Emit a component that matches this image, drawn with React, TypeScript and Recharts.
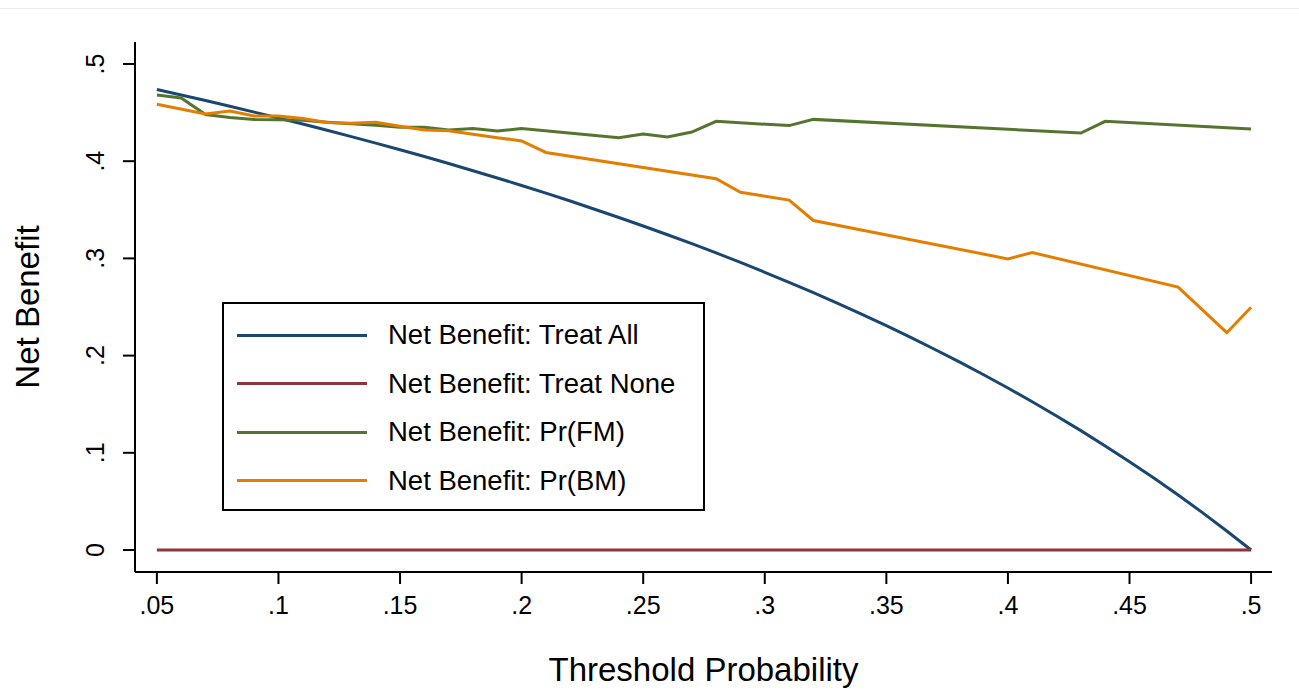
import React from "react";
import { LineChart, Line, XAxis, YAxis, Legend } from "recharts";

const xTicks = [0.05, 0.1, 0.15, 0.2, 0.25, 0.3, 0.35, 0.4, 0.45, 0.5];
const xTickLabels = [".05", ".1", ".15", ".2", ".25", ".3", ".35", ".4", ".45", ".5"];
const yTicks = [0, 0.1, 0.2, 0.3, 0.4, 0.5];
const yTickLabels = ["0", ".1", ".2", ".3", ".4", ".5"];

const treatAllT = [0.05, 0.06, 0.07, 0.08, 0.09, 0.1, 0.11, 0.12, 0.13, 0.14, 0.15, 0.16, 0.17, 0.18, 0.19, 0.2, 0.21, 0.22, 0.23, 0.24, 0.25, 0.26, 0.27, 0.28, 0.29, 0.3, 0.31, 0.32, 0.33, 0.34, 0.35, 0.36, 0.37, 0.38, 0.39, 0.4, 0.41, 0.42, 0.43, 0.44, 0.45, 0.46, 0.47, 0.48, 0.49, 0.5];
const treatAllV = [0.4737, 0.4681, 0.4624, 0.4565, 0.4505, 0.4444, 0.4382, 0.4318, 0.4253, 0.4186, 0.4118, 0.4048, 0.3976, 0.3902, 0.3827, 0.375, 0.3671, 0.359, 0.3506, 0.3421, 0.3333, 0.3243, 0.3151, 0.3056, 0.2958, 0.2857, 0.2754, 0.2647, 0.2537, 0.2424, 0.2308, 0.2188, 0.2063, 0.1935, 0.1803, 0.1667, 0.1525, 0.1379, 0.1228, 0.1071, 0.0909, 0.0741, 0.0566, 0.0385, 0.0196, 0];

const treatNoneT = [0.05, 0.5];
const treatNoneV = [0, 0];

const fmT = [0.05, 0.06, 0.07, 0.08, 0.09, 0.1, 0.11, 0.12, 0.13, 0.14, 0.15, 0.16, 0.17, 0.18, 0.19, 0.2, 0.24, 0.25, 0.26, 0.27, 0.28, 0.31, 0.32, 0.43, 0.44, 0.5];
const fmV = [0.468, 0.465, 0.448, 0.445, 0.443, 0.4425, 0.442, 0.44, 0.4385, 0.437, 0.435, 0.435, 0.432, 0.4335, 0.431, 0.4335, 0.424, 0.428, 0.425, 0.43, 0.441, 0.4366, 0.443, 0.429, 0.441, 0.433];

const bmT = [0.05, 0.07, 0.08, 0.09, 0.1, 0.11, 0.12, 0.13, 0.14, 0.15, 0.16, 0.17, 0.18, 0.19, 0.2, 0.21, 0.28, 0.29, 0.31, 0.32, 0.4, 0.41, 0.47, 0.49, 0.5];
const bmV = [0.4585, 0.4486, 0.4516, 0.4465, 0.4465, 0.444, 0.4397, 0.439, 0.44, 0.436, 0.432, 0.4314, 0.4277, 0.4242, 0.4208, 0.409, 0.382, 0.368, 0.36, 0.339, 0.2995, 0.306, 0.2705, 0.2236, 0.2497];

const seriesNames = [
  "Net Benefit: Treat All",
  "Net Benefit: Treat None",
  "Net Benefit: Pr(FM)",
  "Net Benefit: Pr(BM)",
];
const seriesColors = ["#1a476f", "#90353b", "#55752f", "#e37e00"];

const zip = (ts: number[], vs: number[]) => ts.map((t, i) => ({ t, v: vs[i] }));
const seriesData = [
  zip(treatAllT, treatAllV),
  zip(treatNoneT, treatNoneV),
  zip(fmT, fmV),
  zip(bmT, bmV),
];

const FONT = "'Liberation Sans', Arial, Helvetica, sans-serif";

const XTick = (props: any) => {
  const { x, payload } = props;
  const idx = xTicks.findIndex((t) => Math.abs(t - payload.value) < 1e-9);
  return (
    <text x={x} y={614} textAnchor="middle" fontSize={25} fontFamily={FONT} fill="#000">
      {idx >= 0 ? xTickLabels[idx] : ""}
    </text>
  );
};

const YTick = (props: any) => {
  const { y, payload } = props;
  const idx = yTicks.findIndex((t) => Math.abs(t - payload.value) < 1e-9);
  return (
    <text
      transform={`translate(104, ${y}) rotate(-90)`}
      textAnchor="middle"
      fontSize={25}
      fontFamily={FONT}
      fill="#000"
    >
      {idx >= 0 ? yTickLabels[idx] : ""}
    </text>
  );
};

const LegendBox = () => (
  <div
    style={{
      width: 483,
      height: 209,
      boxSizing: "border-box",
      border: "2px solid #000",
      background: "#fff",
      paddingTop: 7,
      fontFamily: FONT,
    }}
  >
    {seriesNames.map((name, i) => (
      <div key={name} style={{ display: "flex", alignItems: "center", height: 48.5 }}>
        <div style={{ marginLeft: 13, width: 130, height: 3, background: seriesColors[i] }} />
        <div style={{ marginLeft: 21, fontSize: 27.5, color: "#000", whiteSpace: "nowrap" }}>{name}</div>
      </div>
    ))}
  </div>
);

export default function App() {
  return (
    <div style={{ position: "absolute", left: 0, top: 0, width: 1299, height: 698, background: "#fff" }}>
      <div style={{ position: "absolute", left: 0, top: 8, width: 1299, height: 0, borderTop: "1px solid #ececec" }} />
      <LineChart
        width={1299}
        height={698}
        margin={{ top: 42, right: 27, bottom: 0, left: 0 }}
        style={{ fontFamily: FONT }}
      >
        <XAxis
          dataKey="t"
          type="number"
          domain={[0.041, 0.5086]}
          allowDataOverflow
          ticks={xTicks}
          interval={0}
          height={126}
          tickSize={12}
          axisLine={{ stroke: "#000", strokeWidth: 2 }}
          tickLine={{ stroke: "#000", strokeWidth: 2 }}
          tick={<XTick />}
          label={{
            content: () => (
              <text x={703.5} y={681} textAnchor="middle" fontSize={33} fontFamily={FONT} fill="#000">
                Threshold Probability
              </text>
            ),
          }}
        />
        <YAxis
          dataKey="v"
          type="number"
          domain={[-0.0226, 0.5226]}
          allowDataOverflow
          ticks={yTicks}
          interval={0}
          width={135}
          tickSize={12}
          axisLine={{ stroke: "#000", strokeWidth: 2 }}
          tickLine={{ stroke: "#000", strokeWidth: 2 }}
          tick={<YTick />}
          label={{
            content: () => (
              <text
                transform="translate(39, 307) rotate(-90)"
                textAnchor="middle"
                fontSize={33}
                fontFamily={FONT}
                fill="#000"
              >
                Net Benefit
              </text>
            ),
          }}
        />
        {seriesData.map((d, i) => (
          <Line
            key={seriesNames[i]}
            data={d}
            dataKey="v"
            name={seriesNames[i]}
            stroke={seriesColors[i]}
            strokeWidth={3}
            dot={false}
            activeDot={false}
            type="linear"
            isAnimationActive={false}
          />
        ))}
        <Legend
          layout="horizontal"
          verticalAlign="middle"
          align="center"
          wrapperStyle={{ left: 222, top: 302, width: 483, height: 209 }}
          content={() => <LegendBox />}
        />
      </LineChart>
    </div>
  );
}
